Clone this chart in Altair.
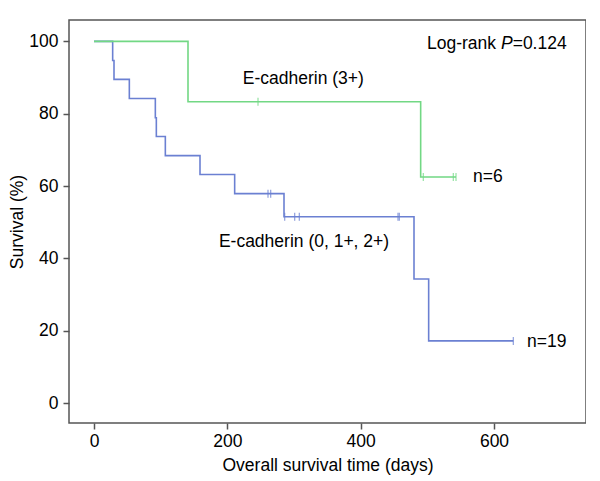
import altair as alt
import pandas as pd

# Step curves (time in days, survival %)
green_t = [0, 141, 490, 543]
green_s = [100, 83.3, 62.5, 62.5]
blue_t = [0, 28, 30, 53, 92, 93.5, 107, 159, 211, 285, 480, 502, 629]
blue_s = [100, 94.7, 89.5, 84.2, 78.9, 73.7, 68.4, 63.2, 57.9, 51.5, 34.3, 17.2, 17.2]

# Censored observations
green_cens_t = [246, 494, 539, 543]
green_cens_s = [83.3, 62.5, 62.5, 62.5]
blue_cens_t = [261, 265, 286, 301, 308, 456, 458, 629]
blue_cens_s = [57.9, 57.9, 51.5, 51.5, 51.5, 51.5, 51.5, 17.2]

x_ticks = [0, 200, 400, 600]
y_ticks = [0, 20, 40, 60, 80, 100]

GREEN = "#72d884"
BLUE = "#6b80d2"
FONT = "Liberation Sans"
FS = 17.5

curves = pd.DataFrame(
    {"t": blue_t + green_t,
     "s": blue_s + green_s,
     "g": ["blue"] * len(blue_t) + ["green"] * len(green_t)}
)
cens = pd.DataFrame(
    {"t": blue_cens_t + green_cens_t,
     "s": blue_cens_s + green_cens_s,
     "g": ["blue"] * len(blue_cens_t) + ["green"] * len(green_cens_t)}
)

xs = alt.Scale(domain=[-37.5, 738], nice=False, zero=False)
ys = alt.Scale(domain=[-5.5, 105.9], nice=False, zero=False)
cs = alt.Scale(domain=["blue", "green"], range=[BLUE, GREEN])

x_enc = alt.X("t:Q", scale=xs,
              axis=alt.Axis(values=x_ticks, title="Overall survival time (days)",
                            grid=False, domain=False, tickSize=6, tickColor="#555555",
                            tickWidth=1.5, labelFontSize=FS, titleFontSize=FS,
                            labelFont=FONT, titleFont=FONT, labelColor="#000000",
                            titleColor="#000000", titleFontWeight="normal",
                            labelPadding=3, titlePadding=7))
y_enc = alt.Y("s:Q", scale=ys,
              axis=alt.Axis(values=y_ticks, title="Survival (%)",
                            grid=False, domain=False, tickSize=6, tickColor="#555555",
                            tickWidth=1.5, labelFontSize=FS, titleFontSize=FS,
                            labelFont=FONT, titleFont=FONT, labelColor="#000000",
                            titleColor="#000000", titleFontWeight="normal",
                            labelPadding=5, titlePadding=2))

lines = alt.Chart(curves).mark_line(interpolate="step-after", strokeWidth=1.6).encode(
    x=x_enc, y=y_enc,
    color=alt.Color("g:N", scale=cs, legend=None),
    detail="g:N",
    order=alt.Order("t:Q"),
)

ticks = alt.Chart(cens).mark_tick(orient="vertical", size=8, thickness=1.3).encode(
    x=alt.X("t:Q", scale=xs), y=alt.Y("s:Q", scale=ys),
    color=alt.Color("g:N", scale=cs, legend=None),
)

lab_df = pd.DataFrame({
    "t": [499.5, 568.5, 649.5],
    "s": [99.3, 62.6, 17.0],
    "txt": ["Log-rank", "n=6", "n=19"],
})
labels_left = alt.Chart(lab_df).mark_text(align="left", baseline="middle", fontSize=FS,
                                          font=FONT, color="#000000").encode(
    x=alt.X("t:Q", scale=xs), y=alt.Y("s:Q", scale=ys), text="txt:N")

p_df = pd.DataFrame({"t": [610.5], "s": [99.3], "txt": ["P"]})
p_lab = alt.Chart(p_df).mark_text(align="left", baseline="middle", fontSize=FS,
                                  font=FONT, fontStyle="italic", color="#000000").encode(
    x=alt.X("t:Q", scale=xs), y=alt.Y("s:Q", scale=ys), text="txt:N")

pv_df = pd.DataFrame({"t": [628.0], "s": [99.3], "txt": ["=0.124"]})
pv_lab = alt.Chart(pv_df).mark_text(align="left", baseline="middle", fontSize=FS,
                                    font=FONT, color="#000000").encode(
    x=alt.X("t:Q", scale=xs), y=alt.Y("s:Q", scale=ys), text="txt:N")

grp_df = pd.DataFrame({
    "t": [314.0, 315.0],
    "s": [89.7, 44.4],
    "txt": ["E-cadherin (3+)", "E-cadherin (0, 1+, 2+)"],
})
grp_lab = alt.Chart(grp_df).mark_text(align="center", baseline="middle", fontSize=FS,
                                      font=FONT, color="#000000").encode(
    x=alt.X("t:Q", scale=xs), y=alt.Y("s:Q", scale=ys), text="txt:N")

chart = alt.layer(lines, ticks, labels_left, p_lab, pv_lab, grp_lab).properties(
    width=517, height=403,
    autosize=alt.AutoSizeParams(type="none"),
    padding={"left": 61, "top": 12, "right": 0, "bottom": 60},
).configure_view(stroke="#555555", strokeWidth=1.5)

chart.save("out.html", embed_options={"renderer": "svg", "actions": False})
